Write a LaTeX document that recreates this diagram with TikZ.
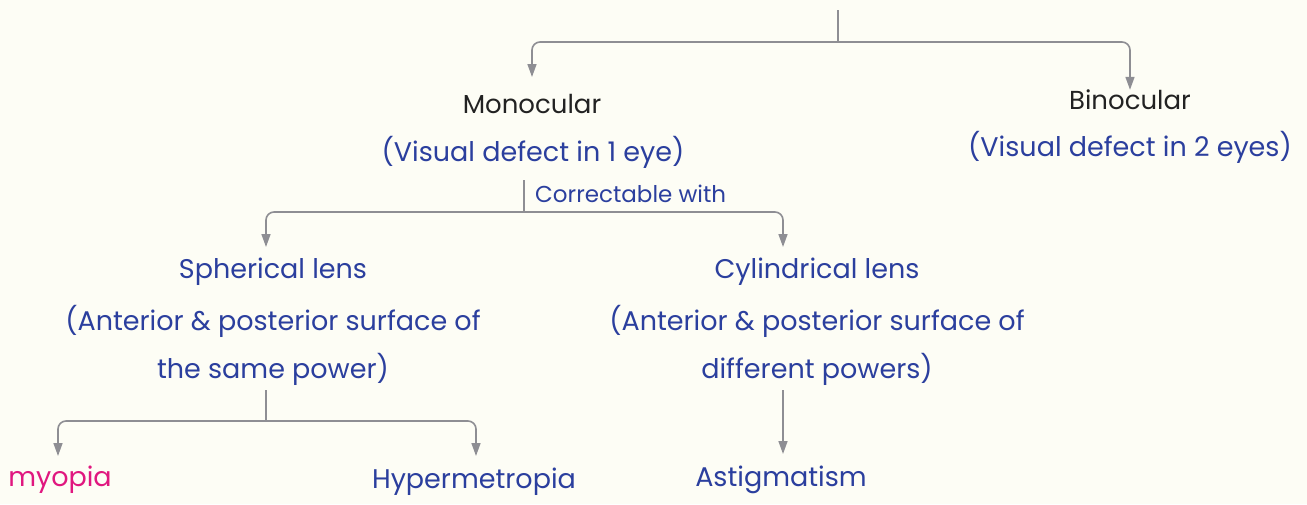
\documentclass[tikz,border=0pt]{standalone}
\usepackage{fontspec}
\setmainfont{Poppins}
\usetikzlibrary{arrows.meta}
\definecolor{bg}{HTML}{FDFDF5}
\definecolor{ink}{HTML}{2B3F9E}
\definecolor{dark}{HTML}{222222}
\definecolor{pinkc}{HTML}{E0177F}
\definecolor{linec}{HTML}{8E8E93}
\begin{document}
\begin{tikzpicture}[x=1pt,y=-1pt,
  txt/.style={inner sep=0pt, font=\fontsize{27}{32}\selectfont, text=ink, anchor=center},
  ttl/.style={txt, text=dark},
  conn/.style={draw=linec, line width=1.6pt, rounded corners=8pt},
  arr/.style={conn, -{Triangle[width=9pt,length=13pt]}}]
\fill[bg] (0,0) rectangle (1307,504);
\useasboundingbox (0,0) rectangle (1307,504);

\node[ttl, font=\fontsize{26}{30}\selectfont] (mono) at (532,104) {Monocular};
\node[txt] (monod) at (533,152) {(Visual defect in 1 eye)};
\node[ttl, font=\fontsize{26}{30}\selectfont] (bino) at (1130,100) {Binocular};
\node[txt] (binod) at (1130,147) {(Visual defect in 2 eyes)};

\node[txt] (sph) at (273,272) {Spherical lens};
\node[txt] (sphd1) at (273,321) {(Anterior \& posterior surface of};
\node[txt] (sphd2) at (273,369) {the same power)};
\node[txt] (cyl) at (817,272) {Cylindrical lens};
\node[txt] (cyld1) at (817,321) {(Anterior \& posterior surface of};
\node[txt] (cyld2) at (817,369) {different powers)};

\node[txt, text=pinkc] (myo) at (60,480) {myopia};
\node[txt] (hyp) at (474,482) {Hypermetropia};
\node[txt] (ast) at (781,480) {Astigmatism};

\coordinate (t0) at (838,10);
\coordinate (tj) at (838,42);
\coordinate (m0) at (524,180);
\coordinate (mj) at (524,212);
\coordinate (s0) at (266,390);
\coordinate (sj) at (266,421);
\coordinate (c0) at (783,390);

\draw[conn] (t0) -- (tj);
\draw[arr] (tj) -| (mono.north |- 0,77);
\draw[arr] (tj) -| (bino.north -| 1130,0 |- 0,77);

\draw[conn] (m0) -- (mj);
\draw[arr] (mj) -| (266,247);
\draw[arr] (mj) -| (783,247);
\node[txt, font=\fontsize{23}{27}\selectfont, anchor=west] (corr) at (535,194) {Correctable with};

\draw[conn] (s0) -- (sj);
\draw[arr] (sj) -| (58,456);
\draw[arr] (sj) -| (476,456);
\draw[arr] (c0) -- (783,454);
\end{tikzpicture}
\end{document}
